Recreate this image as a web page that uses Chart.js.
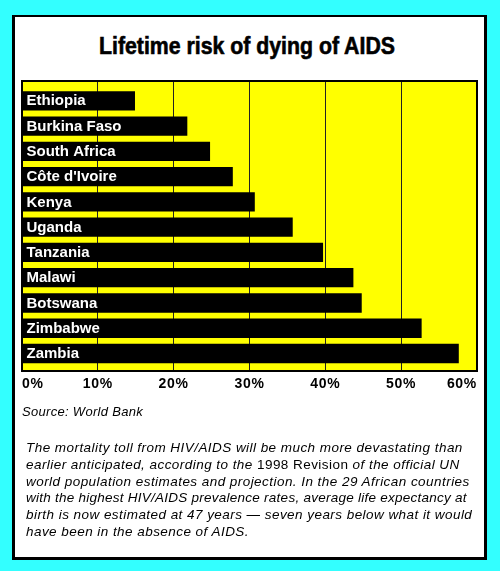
<!DOCTYPE html>
<html>
<head>
<meta charset="utf-8">
<script src="https://cdn.jsdelivr.net/npm/chart.js@4.4.0/dist/chart.umd.min.js"></script>
<style>
  html,body{margin:0;padding:0;}
  body{width:500px;height:571px;background:#33ffff;position:relative;overflow:hidden;font-family:Arial,"Liberation Sans",sans-serif;}
  #box{position:absolute;left:12px;top:15px;width:475px;height:545px;box-sizing:border-box;background:#fff;
       border-style:solid;border-color:#000;border-width:2px 3px 3px 3px;}
  #title{position:absolute;left:0;top:35px;width:494px;text-align:center;font-weight:bold;font-size:23px;line-height:23px;
         -webkit-text-stroke:0.6px #000;transform:scaleX(0.925);transform-origin:247px 0;color:#000;}
  #src{position:absolute;left:22px;top:404px;font-style:italic;font-size:13px;line-height:16px;white-space:nowrap;letter-spacing:0.3px;}
  #note{position:absolute;left:26px;top:440px;font-style:italic;font-size:13.5px;line-height:16.8px;white-space:nowrap;letter-spacing:0.45px;}
  #note .up{font-style:normal;}
  #note .tight{letter-spacing:0.25px;}
  canvas{position:absolute;left:0;top:0;}
</style>
</head>
<body>
<div id="box"></div>
<div id="title">Lifetime risk of dying of AIDS</div>
<canvas id="chart" width="500" height="571"></canvas>
<div id="src">Source: World Bank</div>
<div id="note">
The mortality toll from HIV/AIDS will be much more devastating than<br>
earlier anticipated, according to the <span class="up">1998 Revision</span> of the official UN<br>
world population estimates and projection. In the 29 African countries<br>
<span class="tight">with the highest HIV/AIDS prevalence rates, average life expectancy at</span><br>
birth is now estimated at 47 years — seven years below what it would<br>
have been in the absence of AIDS.
</div>
<script>
// data
const countries=['Ethiopia','Burkina Faso','South Africa',"Côte d'Ivoire",'Kenya','Uganda','Tanzania','Malawi','Botswana','Zimbabwe','Zambia'];
const risk=[14.9,21.8,24.8,27.8,30.7,35.7,39.7,43.7,44.8,52.7,57.6];
const xTicks=[0,10,20,30,40,50,60];

// yellow plot background + black frame, wider spacing for the tick labels
const plotFrame={
  id:'plotFrame',
  beforeDraw(chart){
    let {ctx,chartArea:a}=chart;
    ctx.save(); ctx.fillStyle='#ffff00'; ctx.fillRect(a.left,a.top,a.right-a.left,a.bottom-a.top); ctx.restore();
    ctx.letterSpacing='0.7px';
  },
  beforeDatasetsDraw(chart){ chart.ctx.letterSpacing='0px'; },
  afterDraw(chart){
    let {ctx,chartArea:a}=chart;
    ctx.save(); ctx.strokeStyle='#000'; ctx.lineWidth=2;
    ctx.strokeRect(a.left,a.top,a.right-a.left,a.bottom-a.top); ctx.restore();
  }
};

// country names in white inside the bars
const barLabels={
  id:'barLabels',
  afterDatasetsDraw(chart){
    let ctx=chart.ctx;
    ctx.save();
    ctx.fillStyle='#fff'; ctx.font='bold 15px Arial, "Liberation Sans", sans-serif';
    ctx.textBaseline='middle'; ctx.textAlign='left';
    chart.getDatasetMeta(0).data.forEach((bar,i)=>{ ctx.fillText(countries[i],bar.base+4,bar.y+0.5); });
    ctx.restore();
  }
};

new Chart(document.getElementById('chart'),{
  type:'bar',
  data:{datasets:[{
    data:countries.map((c,i)=>({x:risk[i],y:i})),
    backgroundColor:'#000',borderWidth:0,barPercentage:0.77,categoryPercentage:1
  }]},
  options:{
    indexAxis:'y',responsive:false,animation:false,devicePixelRatio:1,
    layout:{padding:{left:22,right:23,top:81,bottom:173.2}},
    plugins:{legend:{display:false},tooltip:{enabled:false}},
    scales:{
      x:{type:'linear',min:0,max:60,
        afterBuildTicks:s=>{ s.ticks=xTicks.map(v=>({value:v})); },
        grid:{color:'#222',lineWidth:1,drawTicks:false},border:{display:false},
        ticks:{align:'inner',padding:5,maxRotation:0,color:'#000',font:{family:'Arial',size:14,weight:'bold'},callback:v=>v+'%'}},
      y:{type:'linear',reverse:true,offset:false,min:-0.786,max:10.696,display:false,
        afterBuildTicks:s=>{ s.ticks=countries.map((c,i)=>({value:i})); }}
    }
  },
  plugins:[plotFrame,barLabels]
});
</script>
</body>
</html>
